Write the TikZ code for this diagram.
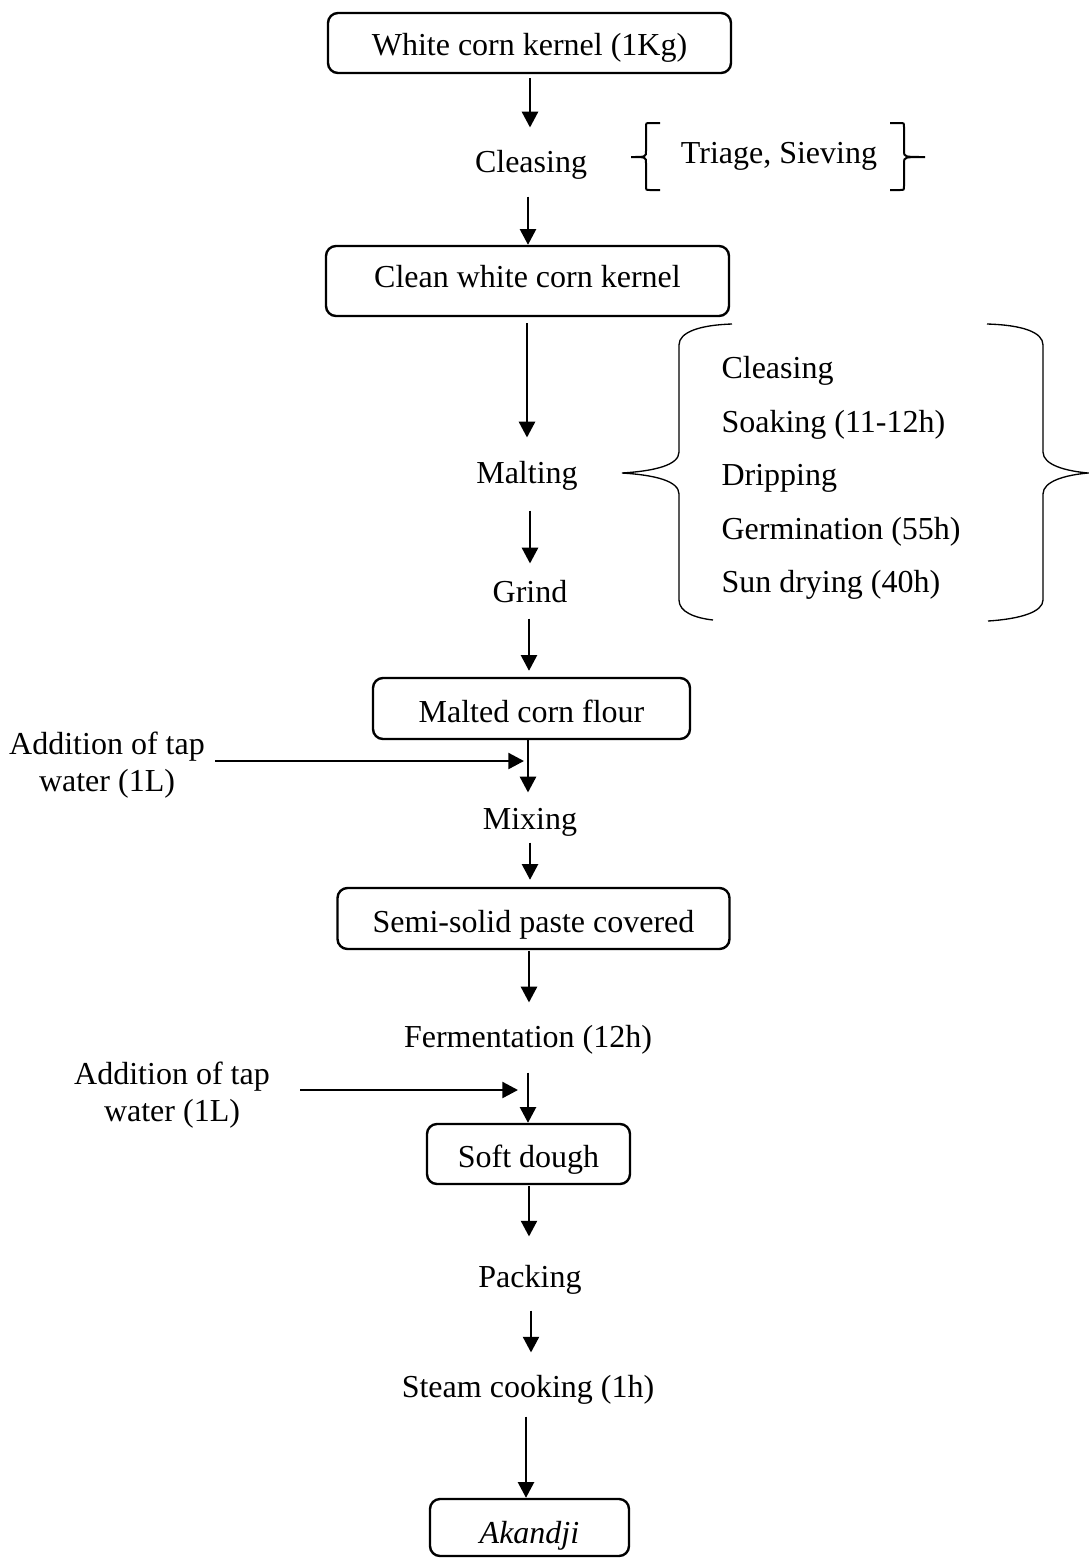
\documentclass[tikz,border=0pt]{standalone}
\usepackage{fontspec}
\setmainfont{Liberation Serif}
\usetikzlibrary{arrows.meta,calc}
\begin{document}
\begin{tikzpicture}[x=0.375pt,y=-0.375pt,
  every node/.style={font=\fontsize{12}{14}\selectfont},
  lbl/.style={inner sep=0pt, text height=9pt, text depth=3pt, anchor=base},
  lst/.style={inner sep=0pt, anchor=base west},
  box/.style={draw, rounded corners=3.75pt, line width=0.9pt, inner xsep=0pt, inner ysep=0pt},
  arr/.style={-{Triangle[length=5.9pt,width=6pt]}, line width=0.95pt},
  brace/.style={line width=0.75pt},
  bigbrace/.style={line width=0.5pt}]
\useasboundingbox (0,0) rectangle (1089,1558);

% boxes
\node[box, minimum width=151.125pt, minimum height=22.5pt, text height=15.75pt, text depth=6.75pt] (b1) at (529.5,43) {White corn kernel (1Kg)};
\node[box, minimum width=151.125pt, minimum height=26.25pt, text height=15.375pt, text depth=10.875pt] (b2) at (527.5,281) {Clean white corn kernel};
\node[box, minimum width=118.875pt, minimum height=22.875pt, text height=16.5pt, text depth=6.375pt] (b3) at (531.5,708.5) {Malted corn flour};
\node[box, minimum width=147pt, minimum height=22.875pt, text height=16.5pt, text depth=6.375pt] (b4) at (533.5,918.5) {Semi-solid paste covered};
\node[box, minimum width=76.125pt, minimum height=22.5pt, text height=16.125pt, text depth=6.375pt] (b5) at (528.5,1154) {Soft dough};
\node[box, minimum width=74.625pt, minimum height=21.375pt, text height=16.5pt, text depth=4.875pt] (b6) at (529.5,1527.5) {\textit{Akandji}};

% step labels
\node[lbl] (cl) at (531,172) {Cleasing};
\node[lbl] (tri) at (779,163) {Triage, Sieving};
\node[lbl] (mal) at (527,483) {Malting};
\node[lbl] (gr) at (530,602) {Grind};
\node[lbl] (mix) at (530,829) {Mixing};
\node[lbl] (fer) at (528,1047) {Fermentation (12h)};
\node[lbl] (pack) at (530,1287) {Packing};
\node[lbl] (steam) at (528,1397) {Steam cooking (1h)};

% malting details
\node[lst] (m1) at (721,378) {Cleasing};
\node[lst] (m2) at (721,432) {Soaking (11-12h)};
\node[lst] (m3) at (721,485) {Dripping};
\node[lst] (m4) at (721,539) {Germination (55h)};
\node[lst] (m5) at (721,592) {Sun drying (40h)};

% water additions
\node[anchor=north, align=center, inner sep=0pt] (add1) at (107,731) {Addition of tap\\water (1L)};
\node[anchor=north, align=center, inner sep=0pt] (add2) at (172,1061) {Addition of tap\\water (1L)};
\coordinate (j1) at (524,761);
\coordinate (j2) at (518,1090);

% vertical arrows
\draw[arr] ($(b1.south)+(0.5,4)$) -- ($(cl.north)+(-1,-20)$);
\draw[arr] ($(cl.south)+(-3,16)$) -- ($(b2.north)+(0.5,0)$);
\draw[arr] ($(b2.south)+(-0.5,6)$) -- ($(mal.north)+(0,-21)$);
\draw[arr] ($(mal.south)+(3,19)$) -- ($(gr.north)+(0,-14)$);
\draw[arr] ($(gr.south)+(-1,8)$) -- ($(b3.north)+(-2.5,-6)$);
\draw[arr] ($(b3.south)+(-3.5,0)$) -- ($(mix.north)+(-2,-12)$);
\draw[arr] ($(mix.south)+(0,5)$) -- ($(b4.north)+(-3.5,-7)$);
\draw[arr] ($(b4.south)+(-4.5,1)$) -- ($(fer.north)+(1,-20)$);
\draw[arr] ($(fer.south)+(0,17)$) -- ($(b5.north)+(-0.5,0)$);
\draw[arr] ($(b5.south)+(0.5,1)$) -- ($(pack.north)+(-1,-26)$);
\draw[arr] ($(pack.south)+(1,15)$) -- ($(steam.north)+(3,-20)$);
\draw[arr] ($(steam.south)+(-2,11)$) -- ($(b6.north)+(-3.5,0)$);

% horizontal arrows
\draw[arr] ($(add1.east |- j1)+(10,0)$) -- (j1);
\draw[arr] ($(add2.east |- j2)+(30,0)$) -- (j2);

% small braces
\draw[brace] (660,123) -- (650,123) .. controls (646,123) .. (646,127) -- (646,151)
  .. controls (646,157) .. (631,157) .. controls (646,157) .. (646,163) -- (646,186)
  .. controls (646,190) .. (650,190) -- (660,190);
\draw[brace] (890,123) -- (900,123) .. controls (904,123) .. (904,127) -- (904,151)
  .. controls (904,157) .. (925,157) .. controls (904,157) .. (904,163) -- (904,186)
  .. controls (904,190) .. (900,190) -- (890,190);

% big braces
\draw[bigbrace] (732,324) .. controls (700,325) and (679,332) .. (679,345) -- (679,452)
  .. controls (679,465) and (655,471) .. (622,473)
  .. controls (655,475) and (679,481) .. (679,494) -- (679,600)
  .. controls (679,612) and (695,618) .. (713,620);
\draw[bigbrace] (987,324) .. controls (1022,325) and (1043,332) .. (1043,345) -- (1043,452)
  .. controls (1043,465) and (1066,471) .. (1088,473)
  .. controls (1066,475) and (1043,481) .. (1043,494) -- (1043,600)
  .. controls (1043,612) and (1020,619) .. (988,621);
\end{tikzpicture}
\end{document}
